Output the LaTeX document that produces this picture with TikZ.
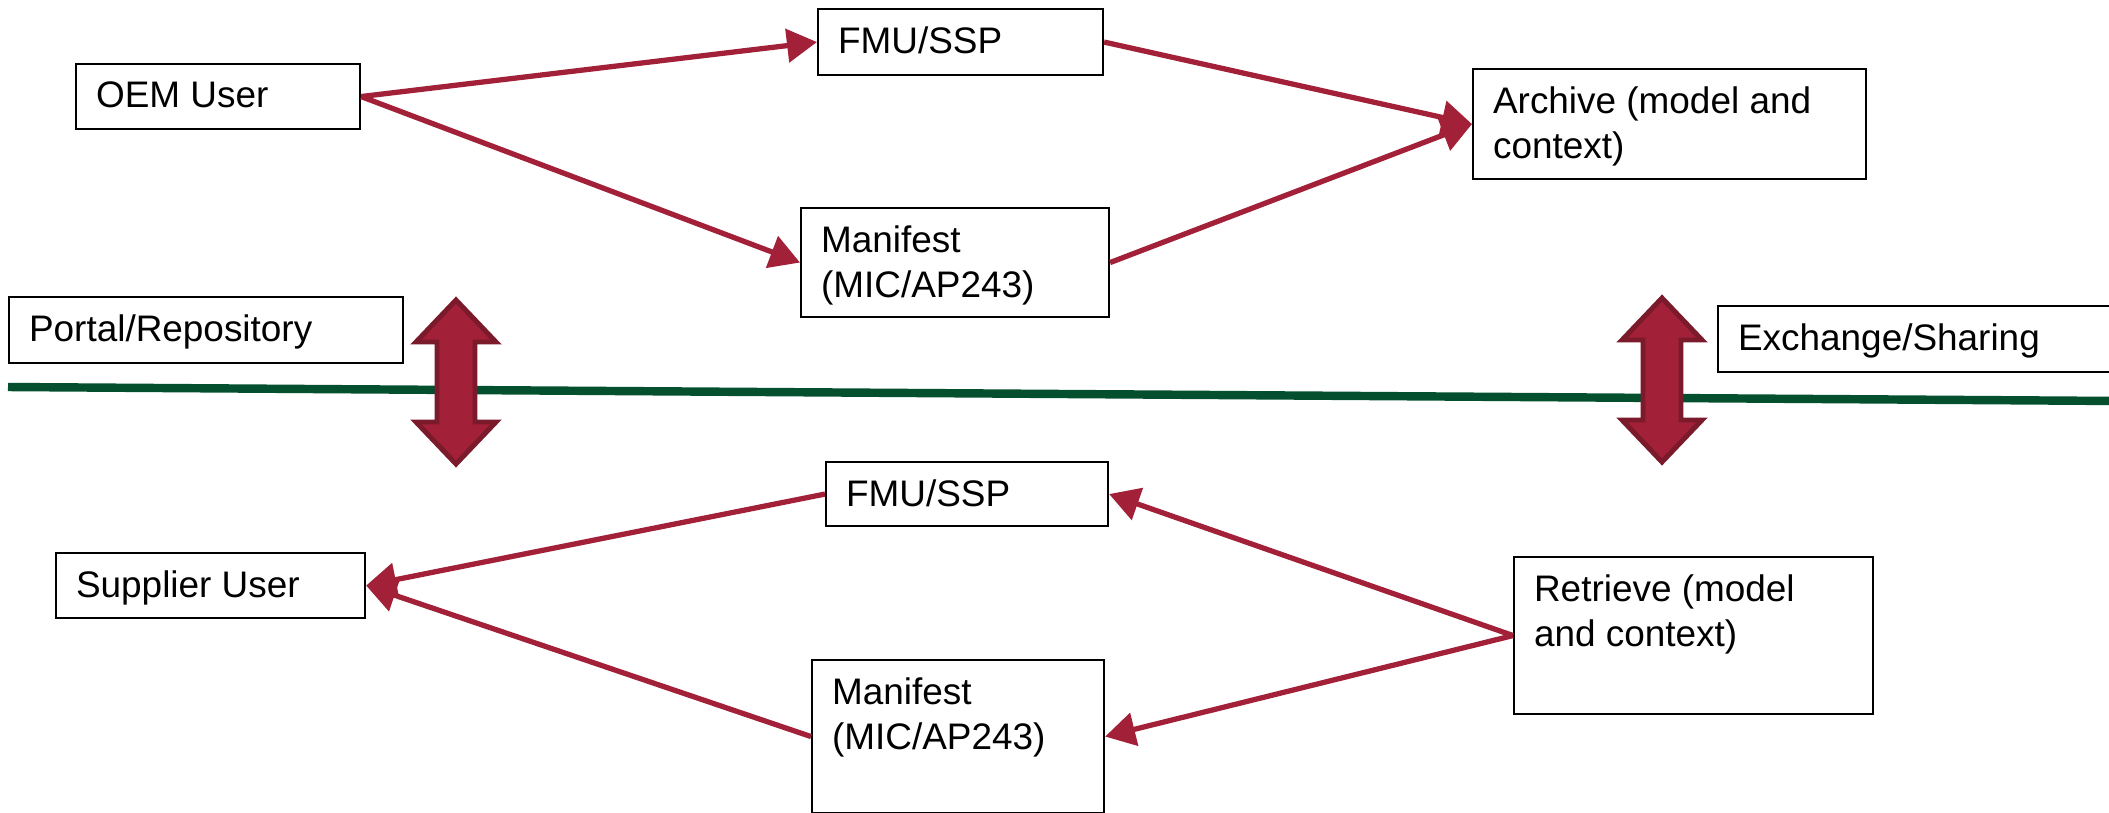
\documentclass[tikz,border=0pt]{standalone}
\usepackage{fontspec}
\setmainfont{Liberation Sans}
\usetikzlibrary{arrows.meta}
\newlength{\pxu}
\setlength{\pxu}{0.01cm}
\newcommand{\boxtext}[3]{\parbox[c][\dimexpr#2\pxu-36\pxu\relax][t]{\dimexpr#1\pxu-40\pxu\relax}{\raggedright #3}}
\definecolor{mred}{RGB}{162, 32, 56}
\definecolor{mdred}{RGB}{122, 26, 42}
\definecolor{mgreen}{RGB}{4, 80, 46}
\tikzset{blk/.style = {draw, line width = 0.6pt, anchor = north west, inner xsep = 20\pxu, inner ysep = 18\pxu, font = \fontsize{10.5}{12.6}\selectfont}}
\tikzset{conn/.style = {mred, line width = 1.5pt, -{Triangle[length = 0.3cm, width = 0.33cm]}}}

\begin{document}
\begin{tikzpicture}[x = 0.01cm, y = -0.01cm]
      \useasboundingbox (0, 0) rectangle (2109, 812);

      \draw [mgreen, line width = 2.4pt] (8, 387) -- (2120, 401);

      \foreach \cx/\ty in {456/300, 1662/298} {
        \filldraw [fill = mred, draw = mdred, line width = 1.4pt] (\cx, \ty) -- ++(40, 42) -- ++(-21, 0) -- ++(0, 80) -- ++(21, 0) -- ++(-40, 42) -- ++(-40, -42) -- ++(21, 0) -- ++(0, -80) -- ++(-21, 0) -- cycle;
      }

      \node [blk] (oem) at (75, 63) {\boxtext{284}{65}{OEM User}};
      \node [blk] (fmua) at (817, 8) {\boxtext{285}{66}{FMU/SSP}};
      \node [blk] (mana) at (800, 207) {\boxtext{308}{109}{Manifest\\(MIC/AP243)}};
      \node [blk] (arch) at (1472, 68) {\boxtext{393}{110}{Archive (model and\\context)}};

      \node [blk] (portal) at (8, 296) {\boxtext{394}{66}{Portal/Repository}};
      \node [blk] (exch) at (1717, 305) {\boxtext{420}{66}{Exchange/Sharing}};

      \node [blk] (fmub) at (825, 461) {\boxtext{282}{64}{FMU/SSP}};
      \node [blk] (sup) at (55, 552) {\boxtext{309}{65}{Supplier User}};
      \node [blk] (manb) at (811, 659) {\boxtext{292}{153}{Manifest\\(MIC/AP243)}};
      \node [blk] (retr) at (1513, 556) {\boxtext{359}{157}{Retrieve (model\\and context)}};

      \draw [conn] (oem.east) -- (fmua.west);
      \draw [conn] (oem.east) -- (mana.west);
      \draw [conn] (fmua.east) -- (arch.west);
      \draw [conn] (mana.east) -- (arch.west);

      \draw [conn] (fmub.west) -- (sup.east);
      \draw [conn] (manb.west) -- (sup.east);
      \draw [conn] (retr.west) -- (fmub.east);
      \draw [conn] (retr.west) -- (manb.east);
    \end{tikzpicture}
\end{document}
